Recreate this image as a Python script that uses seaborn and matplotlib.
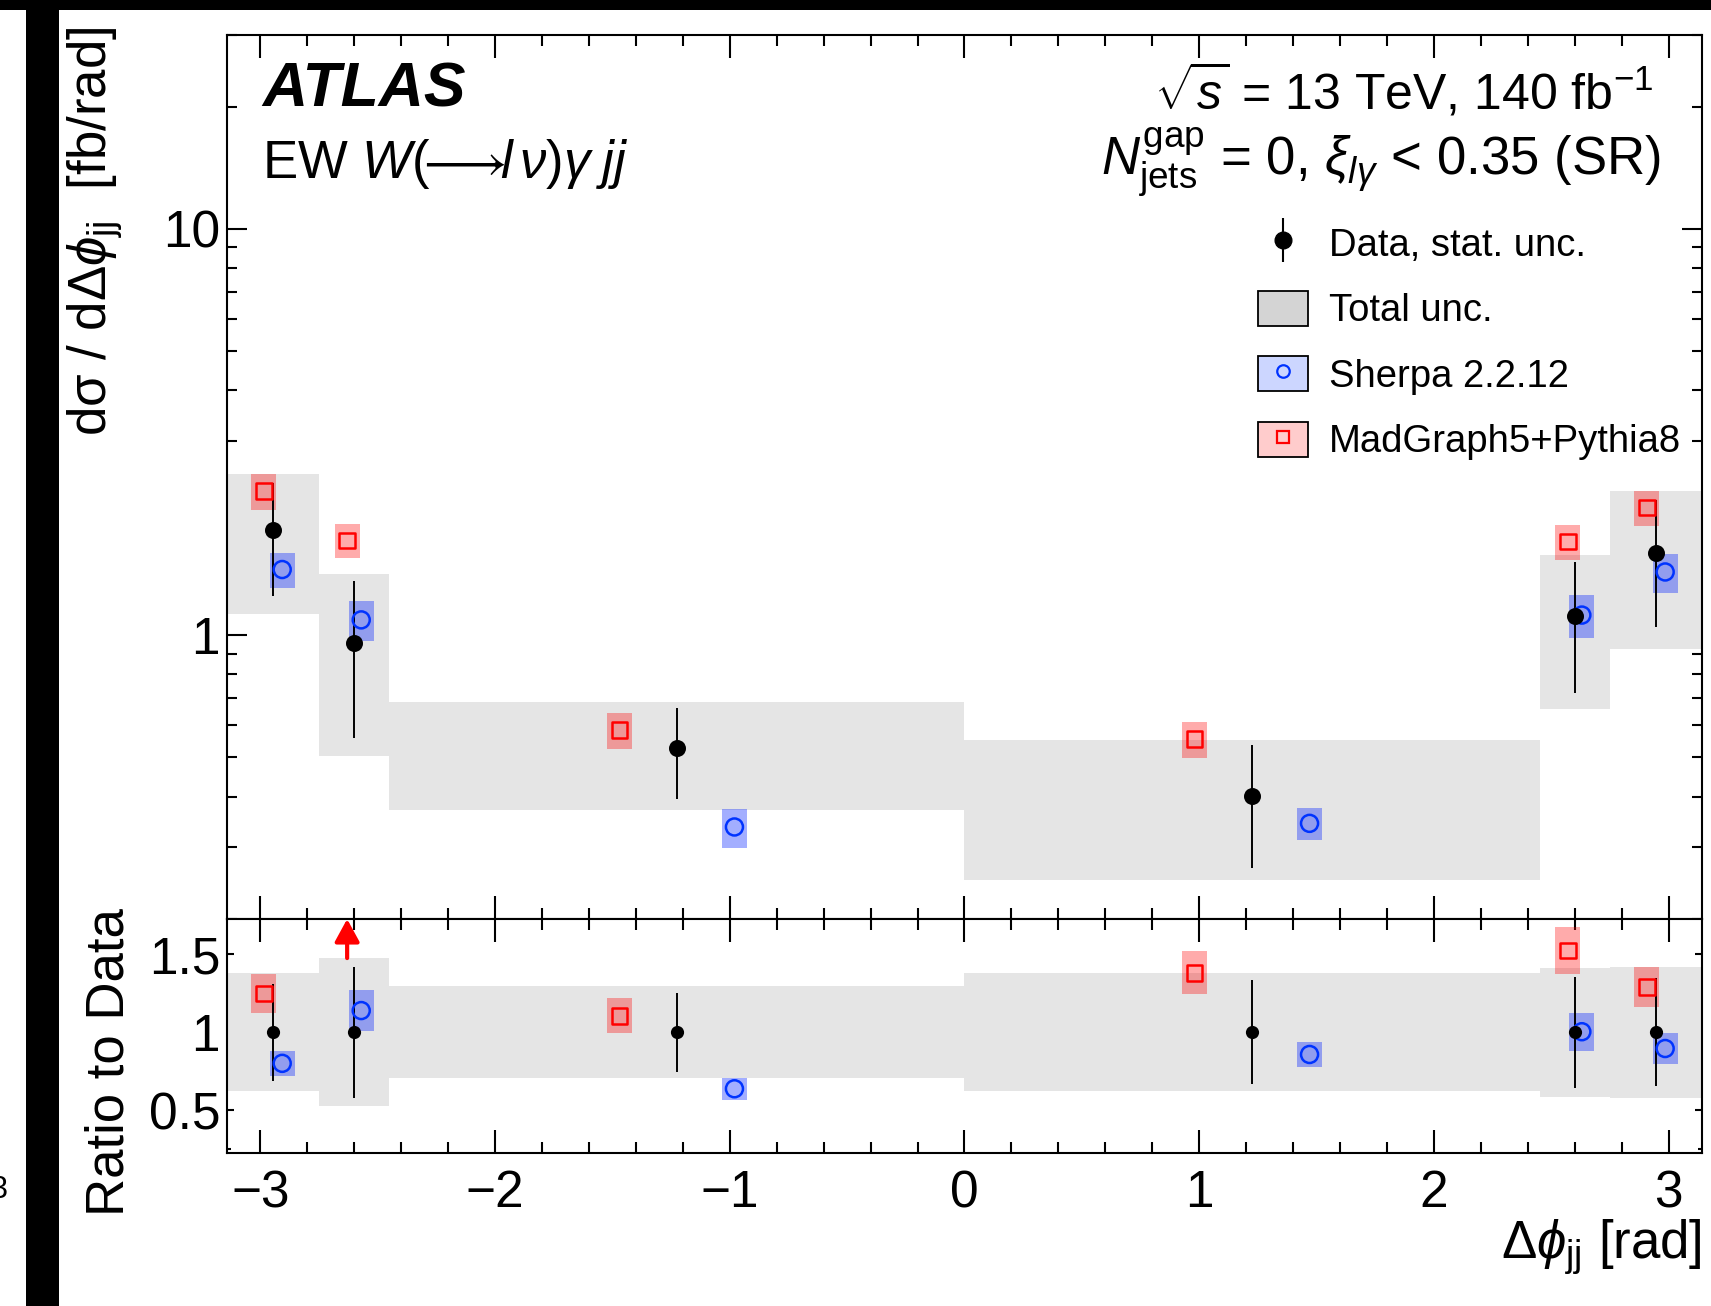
import numpy as np
import pandas as pd
import matplotlib
matplotlib.use("Agg")
import matplotlib.pyplot as plt
import seaborn as sns
from matplotlib.patches import Patch, Rectangle
from matplotlib.lines import Line2D
from matplotlib.ticker import FixedLocator, NullFormatter, FixedFormatter, MultipleLocator, LogLocator

# ---------------- data ----------------
bin_edges = [-np.pi, -2.75, -2.45, 0.0, 2.45, 2.75, np.pi]
data_xsec = [1.81, 0.957, 0.528, 0.401, 1.116, 1.596]      # fb/rad
data_stat = [0.56, 0.40, 0.133, 0.134, 0.397, 0.55]        # absolute stat. unc.
data_total = [0.685, 0.453, 0.156, 0.152, 0.459, 0.672]    # absolute total unc.
sherpa_xsec = [1.45, 1.09, 0.337, 0.344, 1.12, 1.43]
sherpa_unc = [0.10, 0.115, 0.11, 0.09, 0.12, 0.11]         # relative
mg_xsec = [2.26, 1.71, 0.584, 0.554, 1.70, 2.06]
mg_unc = [0.10, 0.095, 0.10, 0.10, 0.10, 0.10]             # relative

x_ticks = [-3, -2, -1, 0, 1, 2, 3]
main_yticks = [1, 10]
main_yticklabels = ["1", "10"]
ratio_yticks = [0.5, 1.0, 1.5]
ratio_yticklabels = ["0.5", "1", "1.5"]
legend_labels = ["Data, stat. unc.", "Total unc.", "Sherpa 2.2.12", "MadGraph5+Pythia8"]

# ---------------- derived ----------------
edges = np.array(bin_edges)
centers = 0.5 * (edges[:-1] + edges[1:])
widths = np.diff(edges)
d = np.array(data_xsec)
ds = np.array(data_stat)
dt = np.array(data_total)
sh = np.array(sherpa_xsec)
shu = np.array(sherpa_unc)
mg = np.array(mg_xsec)
mgu = np.array(mg_unc)
mg_x = centers - 0.1 * widths
sh_x = centers + 0.1 * widths

BOX_W = 0.107
GRAY = "#e5e5e5"
RED_BOX = (1.0, 0.0, 0.0, 0.33)
BLUE_BOX = (0.0, 0.12, 1.0, 0.36)
RED = "#ff0000"
BLUE = "#0033ff"
MAIN_YLIM = (0.2, 30.0)
RATIO_YLIM = (0.23, 1.725)

TICK_FS = 37
LABEL_FS = 38
LEG_FS = 27.5

# ---------------- style ----------------
sns.set_theme(style="ticks")
plt.rcParams["font.family"] = ["Liberation Sans", "DejaVu Sans"]
plt.rcParams.update({
    "mathtext.fontset": "custom",
    "mathtext.rm": "Liberation Sans",
    "mathtext.it": "Liberation Sans:italic",
    "mathtext.bf": "Liberation Sans:bold",
    "axes.linewidth": 1.5,
    "axes.edgecolor": "black",
    "xtick.color": "black",
    "ytick.color": "black",
    "text.color": "black",
    "axes.labelcolor": "black",
})

fig = plt.figure(figsize=(17.11, 13.06), dpi=100)
fig.patch.set_facecolor("white")
ax = fig.add_axes([0.1327, 0.2963, 0.862, 0.6769])
rax = fig.add_axes([0.1327, 0.1175, 0.862, 0.1788], sharex=ax)

# ---------------- main panel ----------------
ax.set_yscale("log")
ax.bar(edges[:-1], 2 * dt, width=widths, bottom=d - dt, align="edge",
       color=GRAY, lw=0, zorder=1)
ax.bar(mg_x, 2 * mg * mgu, width=BOX_W, bottom=mg * (1 - mgu), color=RED_BOX, lw=0, zorder=2)
ax.bar(sh_x, 2 * sh * shu, width=BOX_W, bottom=sh * (1 - shu), color=BLUE_BOX, lw=0, zorder=2)
ax.errorbar(centers, d, yerr=ds, fmt="none", ecolor="black", elinewidth=1.4, zorder=3)

main_df = pd.DataFrame({"x": np.concatenate([mg_x, sh_x, centers]),
                        "y": np.concatenate([mg, sh, d]),
                        "series": ["mg"] * 6 + ["sherpa"] * 6 + ["data"] * 6})
sns.scatterplot(data=main_df[main_df.series == "mg"], x="x", y="y", ax=ax, marker="s",
                s=130, facecolors="none", edgecolor=RED, linewidth=1.8, zorder=4, legend=False)
sns.scatterplot(data=main_df[main_df.series == "sherpa"], x="x", y="y", ax=ax, marker="o",
                s=150, facecolors="none", edgecolor=BLUE, linewidth=1.8, zorder=4, legend=False)
sns.scatterplot(data=main_df[main_df.series == "data"], x="x", y="y", ax=ax, marker="o",
                s=150, color="black", edgecolor="black", linewidth=0, zorder=5, legend=False)

ax.set_xlim(-np.pi, np.pi)
ax.set_ylim(*MAIN_YLIM)
ax.yaxis.set_major_locator(FixedLocator(main_yticks))
ax.yaxis.set_major_formatter(FixedFormatter(main_yticklabels))
ax.yaxis.set_minor_locator(LogLocator(base=10, subs=np.arange(2, 10)))
ax.yaxis.set_minor_formatter(NullFormatter())
ax.set_xlabel("")
ax.set_ylabel(r"dσ / dΔ$\phi_{\mathrm{jj}}$  [fb/rad]", fontsize=LABEL_FS, loc="top")
ax.yaxis.set_label_coords(-0.069, 1.009)

# ---------------- ratio panel ----------------
r_tot = dt / d
r_stat = ds / d
r_mg = mg / d
r_sh = sh / d
ones = np.ones_like(d)
rax.bar(edges[:-1], 2 * r_tot, width=widths, bottom=1 - r_tot, align="edge",
        color=GRAY, lw=0, zorder=1)
in_mg = r_mg < RATIO_YLIM[1]
in_sh = r_sh < RATIO_YLIM[1]
rax.bar(mg_x[in_mg], 2 * (r_mg * mgu)[in_mg], width=BOX_W, bottom=(r_mg * (1 - mgu))[in_mg],
        color=RED_BOX, lw=0, zorder=2)
rax.bar(sh_x[in_sh], 2 * (r_sh * shu)[in_sh], width=BOX_W, bottom=(r_sh * (1 - shu))[in_sh],
        color=BLUE_BOX, lw=0, zorder=2)
rax.errorbar(centers, ones, yerr=r_stat, fmt="none", ecolor="black", elinewidth=1.4, zorder=3)
sns.scatterplot(x=mg_x[in_mg], y=r_mg[in_mg], ax=rax, marker="s", s=130, facecolors="none",
                edgecolor=RED, linewidth=1.8, zorder=4, legend=False)
sns.scatterplot(x=sh_x[in_sh], y=r_sh[in_sh], ax=rax, marker="o", s=150, facecolors="none",
                edgecolor=BLUE, linewidth=1.8, zorder=4, legend=False)
sns.scatterplot(x=centers, y=ones, ax=rax, marker="o", s=90, color="black",
                linewidth=0, zorder=5, legend=False)
for xi in mg_x[~in_mg]:
    rax.annotate("", xy=(xi, RATIO_YLIM[1]), xytext=(xi, RATIO_YLIM[1] - 0.25),
                 arrowprops=dict(arrowstyle="-|>,head_width=0.3,head_length=0.55",
                                 color=RED, lw=3, mutation_scale=25, shrinkA=0, shrinkB=0),
                 zorder=6)

rax.set_ylim(*RATIO_YLIM)
rax.yaxis.set_major_locator(FixedLocator(ratio_yticks))
rax.yaxis.set_major_formatter(FixedFormatter(ratio_yticklabels))
rax.yaxis.set_minor_locator(MultipleLocator(0.25))
rax.xaxis.set_major_locator(FixedLocator(x_ticks))
rax.set_ylabel("Ratio to Data", fontsize=LABEL_FS, loc="top")
rax.yaxis.set_label_coords(-0.063, 1.047)
rax.set_xlabel(r"$\Delta\phi_{\mathrm{jj}}$ [rad]", fontsize=LABEL_FS, loc="right")
rax.xaxis.set_label_coords(1.0, -0.277)

# ---------------- ticks ----------------
for a in (ax, rax):
    a.tick_params(which="both", direction="in", top=True, right=True, width=1.5,
                  labelsize=TICK_FS)
    a.tick_params(axis="x", which="major", length=16.5, pad=12)
    a.tick_params(axis="x", which="minor", length=8)
    a.xaxis.set_minor_locator(MultipleLocator(0.2))
    a.tick_params(axis="y", which="major", pad=5)
    for s in a.spines.values():
        s.set_linewidth(1.5)
        s.set_visible(True)
ax.tick_params(axis="x", labelbottom=False)
ax.tick_params(axis="y", which="major", length=14.4)
ax.tick_params(axis="y", which="minor", length=7.2)
rax.tick_params(axis="y", which="major", length=5)
rax.tick_params(axis="y", which="minor", length=3)

# ---------------- texts ----------------
ax.text(0.0237, 0.938, "ATLAS", transform=ax.transAxes, fontsize=45, fontweight="bold",
        fontstyle="italic", ha="left", va="center")
ax.text(0.0237, 0.854, r"EW $W(\!\!\longrightarrow\!\!l\,\nu)\gamma\;jj$", transform=ax.transAxes,
        fontsize=38, ha="left", va="center")
ax.text(0.967, 0.938, r"$\sqrt{s}$ = 13 TeV, 140 fb$^{\mathrm{-1}}$", transform=ax.transAxes,
        fontsize=36, ha="right", va="center")
ax.text(0.972, 0.855, r"$N_{\mathrm{jets}}^{\mathrm{gap}}$ = 0, $\xi_{l\gamma}$ < 0.35 (SR)",
        transform=ax.transAxes, fontsize=38, ha="right", va="center")

# ---------------- legend ----------------
h_data = (Line2D([], [], marker="|", ms=32, mew=1.5, color="black", ls=""),
          Line2D([], [], marker="o", ms=12, color="black", ls=""))
h_tot = Patch(facecolor="#d4d4d4", edgecolor="black", lw=1.3)
h_sh = (Patch(facecolor=(0.8, 0.84, 1.0), edgecolor="black", lw=1.3),
        Line2D([], [], marker="o", ms=9, mfc="none", mec=BLUE, mew=1.6, ls=""))
h_mg = (Patch(facecolor=(1.0, 0.8, 0.8), edgecolor="black", lw=1.3),
        Line2D([], [], marker="s", ms=9, mfc="none", mec=RED, mew=1.6, ls=""))
ax.legend([h_data, h_tot, h_sh, h_mg], legend_labels, loc="upper left",
          bbox_to_anchor=(0.699, 0.785), frameon=False, fontsize=LEG_FS,
          handlelength=1.31, handleheight=1.05, handletextpad=0.55, labelspacing=0.7,
          borderpad=0, borderaxespad=0)

# ---------------- frame artefacts of the reference ----------------
fig.add_artist(Rectangle((0, 1 - 10 / 1306), 1, 10 / 1306, transform=fig.transFigure,
                         color="black", lw=0))
fig.add_artist(Rectangle((26 / 1711, 0), 33 / 1711, 1 - 10 / 1306, transform=fig.transFigure,
                         color="black", lw=0))
fig.text(-9 / 1711, 1 - 1190 / 1306, "3", fontsize=22, ha="left", va="center")

fig.savefig("out.png", dpi=100)
